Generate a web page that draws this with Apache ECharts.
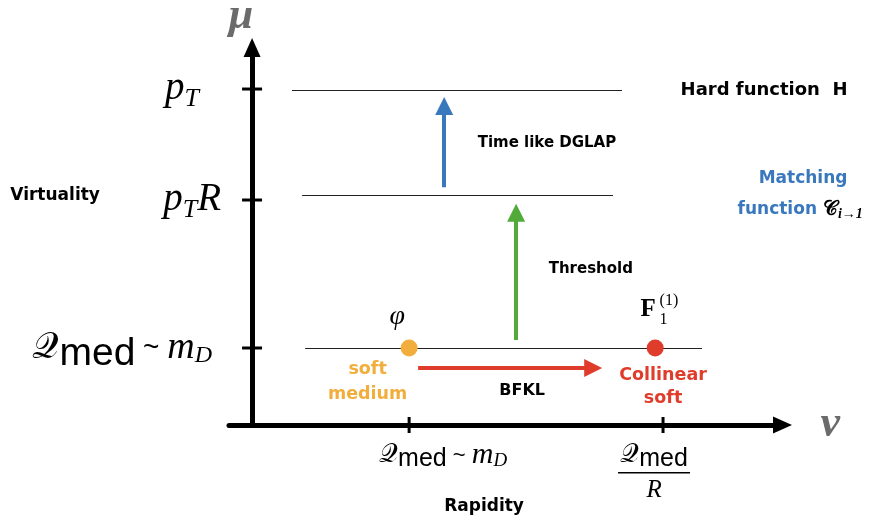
<!DOCTYPE html>
<html><head><meta charset="utf-8">
<script src="https://cdn.jsdelivr.net/npm/echarts@6/dist/echarts.min.js"></script>
<style>html,body{margin:0;padding:0;background:#fff}#c{width:870px;height:525px}</style>
</head><body><div id="c"></div>
<script>
// ---- data (abstract units) ----
const xRange = [-1, 23];
const yRange = [0, 10];
const xTickValues = [6.81, 17.82];
const xTickLabels = ['Qmed ~ mD', 'Qmed / R'];
const yTickValues = [2.04, 5.96, 8.90];
const yTickLabels = ['Qmed ~ mD', 'pT R', 'pT'];
// scale levels (horizontal lines)
const levelNames = ['pT', 'pT R', 'Qmed'];
const levelY = [8.87, 6.09, 2.04];
const levelXStart = [1.73, 2.17, 2.30];
const levelXEnd = [16.04, 15.65, 19.51];
// modes (points)
const modeNames = ['soft medium', 'collinear soft'];
const modeX = [6.81, 17.48];
const modeY = [2.04, 2.04];
// evolution arrows
const arrowNames = ['Time like DGLAP', 'Threshold', 'BFKL'];
const arrowFrom = [[8.33, 6.30], [11.45, 2.25], [7.20, 1.51]];
const arrowTo = [[8.33, 8.45], [11.45, 5.62], [14.79, 1.51]];
// annotations
const noteIds = ['hard', 'dglap', 'threshold', 'bfkl', 'virtuality', 'rapidity', 'matching', 'matchfn', 'soft', 'collinear', 'phi', 'F', 'Fsup', 'Fsub'];
const noteTexts = ['Hard function  H', 'Time like DGLAP', 'Threshold', 'BFKL', 'Virtuality', 'Rapidity', 'Matching', 'function 𝒞 i→1', 'soft\nmedium', 'Collinear\nsoft', 'φ', 'F', '(1)', '1'];
const noteX = [18.56, 9.76, 12.84, 11.71, -8.54, 10.06, 23.89, 21.03, 5.01, 17.82, 6.29, 17.17, 17.65, 17.65];
const noteY = [8.87, 7.47, 4.13, 0.90, 6.09, -2.17, 6.54, 5.70, 1.13, 1.00, 2.86, 3.05, 3.28, 2.78];

// ---- styles ----
const C = {orange:'#F2AE3D', red:'#E03C2C', blue:'#3A78BD', green:'#52AA38', text:'#000', axisName:'#6b6b6b'};
const SANS_B = 'DejaVu Sans';
const SERIF = 'Liberation Serif';
const serifI = {fontFamily: SERIF, fontStyle:'italic', color:'#000'};

const yRich = {
  p: Object.assign({}, serifI, {fontSize:39}),
  T: Object.assign({}, serifI, {fontSize:26, padding:[20,0,0,0]}),
  R: Object.assign({}, serifI, {fontSize:39}),
  q: {fontFamily:'DejaVu Serif', fontSize:37, color:'#000'},
  med: {fontFamily:'Liberation Sans', fontSize:39, color:'#000', padding:[12,0,0,0]},
  til: {fontFamily:'Liberation Sans', fontSize:28, color:'#000'},
  m: Object.assign({}, serifI, {fontSize:38}),
  D: Object.assign({}, serifI, {fontSize:24, padding:[16,0,0,0]}),
  g1: {width:22}, g2: {width:9}
};
const yMarkup = {
  'pT': '{p|p}{T|T}{g1|}',
  'pT R': '{p|p}{T|T}{R|R}',
  'Qmed ~ mD': '{q|𝒬}{med|med}{til| ~ }{m|m}{D|D}{g2|}'
};
const xRich = {
  q: {fontFamily:'DejaVu Serif', fontSize:26, color:'#000'},
  med: {fontFamily:'Liberation Sans', fontSize:25, color:'#000', padding:[8,0,0,0]},
  til: {fontFamily:'Liberation Sans', fontSize:22, color:'#000'},
  m: Object.assign({}, serifI, {fontSize:30}),
  D: Object.assign({}, serifI, {fontSize:19, padding:[11,0,0,0]}),
  R: Object.assign({}, serifI, {fontSize:25, padding:[4,0,0,0]}),
  bar: {width:72, height:1.5, backgroundColor:'#000'},
  g1: {width:68}, g2: {width:18}, g2b: {width:18, height:1.5}
};
const xMarkup = {
  'Qmed ~ mD': '{g1|}{q|𝒬}{med|med}{til| ~ }{m|m}{D|D}',
  'Qmed / R': '{q|𝒬}{med|med}{g2|}\n{bar|}{g2b|}\n{R|R}{g2|}'
};

const noteStyle = {
  hard: {pos:'right', ff:SANS_B, fs:18, fw:'bold', color:C.text},
  dglap: {pos:'right', ff:SANS_B, fs:15, fw:'bold', color:C.text},
  threshold: {pos:'right', ff:SANS_B, fs:15, fw:'bold', color:C.text},
  bfkl: {pos:'inside', ff:SANS_B, fs:16, fw:'bold', color:C.text},
  virtuality: {pos:'inside', ff:SANS_B, fs:17, fw:'bold', color:C.text},
  rapidity: {pos:'inside', ff:SANS_B, fs:17, fw:'bold', color:C.text},
  matching: {pos:'inside', ff:SANS_B, fs:17, fw:'bold', color:C.blue},
  matchfn: {pos:'right', ff:SANS_B, fs:17, fw:'bold', color:C.blue, rich:{
    c:{fontFamily:'DejaVu Serif', fontSize:20, color:'#000'},
    s:Object.assign({}, serifI, {fontSize:14, padding:[10,0,0,0]})
  }, fmt:(t)=>{const parts=t.split(' '); return parts[0]+' {c|'+parts[1]+'}{s|'+parts[2]+'}';}},
  soft: {pos:'inside', ff:SANS_B, fs:17.5, fw:'bold', color:C.orange, lh:25},
  collinear: {pos:'inside', ff:SANS_B, fs:17.5, fw:'bold', color:C.red, lh:23},
  phi: {pos:'inside', ff:SERIF, fs:28, fst:'italic', color:C.text},
  F: {pos:'inside', ff:SERIF, fs:25, fw:'bold', color:C.text},
  Fsup: {pos:'right', ff:SERIF, fs:16, color:C.text},
  Fsub: {pos:'right', ff:SERIF, fs:16, color:C.text}
};

function findIdx(arr, v){ return arr.findIndex(a => Math.abs(a - v) < 1e-6); }

const annotationData = noteIds.map((id, i) => {
  const s = noteStyle[id];
  const lab = {show:true, position:s.pos, distance:0, fontFamily:s.ff, fontSize:s.fs,
    fontWeight:s.fw || 'normal', fontStyle:s.fst || 'normal', color:s.color,
    textBorderWidth:0, align: s.pos === 'inside' ? 'center' : 'left',
    formatter: s.fmt ? s.fmt(noteTexts[i]) : noteTexts[i]};
  if (s.lh) lab.lineHeight = s.lh;
  if (s.rich) lab.rich = s.rich;
  return {name:id, value:[noteX[i], noteY[i]], label:lab};
});

const arrowColors = [C.blue, C.green, C.red];
const arrowSeries = arrowNames.map((n, i) => ({
  type:'lines', name:n, coordinateSystem:'cartesian2d', z:4,
  symbol:['none','triangle'], symbolSize:18,
  lineStyle:{color:arrowColors[i], width:4, opacity:1},
  itemStyle:{color:arrowColors[i]},
  data:[{coords:[arrowFrom[i], arrowTo[i]]}]
}));

const axisLineStyle = {color:'#000', width:5};
const option = {
  backgroundColor:'#fff',
  animation:false,
  grid:{left:229, right:87.5, top:47.5, bottom:100, containLabel:false, outerBoundsMode:'none'},
  xAxis:{
    type:'value', min:xRange[0], max:xRange[1],
    axisLine:{show:true, onZero:true, symbol:['none','triangle'], symbolSize:[17,19], lineStyle:axisLineStyle},
    axisTick:{show:false}, splitLine:{show:false},
    axisLabel:{customValues:xTickValues, margin:14, align:'center', verticalAlign:'top',
      formatter:(v)=>xMarkup[xTickLabels[findIdx(xTickValues, v)]], rich:xRich},
    name:'ν', nameLocation:'end', nameGap:38,
    nameTextStyle:{fontFamily:SERIF, fontStyle:'italic', fontWeight:'bold', fontSize:44, color:C.axisName, verticalAlign:'middle', align:'left'}
  },
  yAxis:{
    type:'value', min:yRange[0], max:yRange[1],
    axisLine:{show:true, onZero:true, symbol:['none','triangle'], symbolSize:[17,19], lineStyle:axisLineStyle},
    axisTick:{show:false}, splitLine:{show:false},
    axisLabel:{customValues:yTickValues, margin:8,
      formatter:(v)=>yMarkup[yTickLabels[findIdx(yTickValues, v)]], rich:yRich},
    name:'μ', nameLocation:'end', nameGap:9,
    nameTextStyle:{fontFamily:SERIF, fontStyle:'italic', fontWeight:'bold', fontSize:44, color:C.axisName, padding:[0,22,0,0]}
  },
  series:[
    {type:'lines', name:'levels', coordinateSystem:'cartesian2d', z:3, symbol:'none',
     lineStyle:{color:'#222', width:1.2, opacity:1},
     data:levelNames.map((n,i)=>({name:n, coords:[[levelXStart[i], levelY[i]], [levelXEnd[i], levelY[i]]]}))},
    ...arrowSeries,
    {type:'scatter', name:'yTicks', z:3, symbol:'rect', symbolSize:[20,3], itemStyle:{color:'#000', opacity:1},
     data:yTickValues.map(v=>[0, v])},
    {type:'scatter', name:'xTicks', z:3, symbol:'rect', symbolSize:[3,16], itemStyle:{color:'#000', opacity:1},
     data:xTickValues.map(v=>[v, 0])},
    {type:'scatter', name:'modes', z:5, symbolSize:17,
     data:modeNames.map((n,i)=>({name:n, value:[modeX[i], modeY[i]], itemStyle:{color:[C.orange, C.red][i], opacity:1}}))},
    {type:'scatter', name:'annotations', z:6, clip:false, symbolSize:1, itemStyle:{color:'rgba(0,0,0,0)', opacity:1},
     data:annotationData}
  ]
};
const chart = echarts.init(document.getElementById('c'));
chart.setOption(option);
</script>
</body></html>
